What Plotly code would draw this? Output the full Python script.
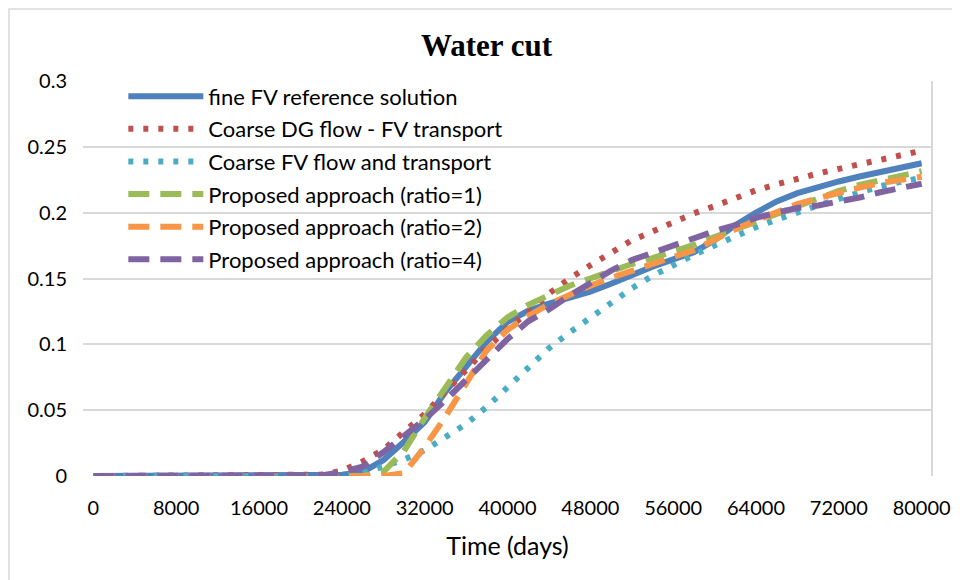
import plotly.graph_objects as go

time_days = [0, 2000, 4000, 6000, 8000, 10000, 12000, 14000, 16000, 18000,
             20000, 22000, 24000, 26000, 28000, 30000, 32000, 34000, 36000, 38000,
             40000, 42000, 44000, 46000, 48000, 50000, 52000, 54000, 56000, 58000,
             60000, 62000, 64000, 66000, 68000, 70000, 72000, 74000, 76000, 78000, 80000]

fine_fv = [0, 0, 0, 0, 0, 0, 0, 0, 0, 0,
           0, 0, 0.001, 0.003, 0.012, 0.026, 0.041, 0.064, 0.083, 0.102,
           0.117, 0.1255, 0.131, 0.1355, 0.140, 0.146, 0.153, 0.159, 0.1645, 0.170,
           0.179, 0.1905, 0.2, 0.2085, 0.2148, 0.2197, 0.2237, 0.2275, 0.231, 0.2343, 0.2375]

coarse_dg = [0, 0, 0, 0, 0, 0, 0, 0, 0, 0,
             0, 0.001, 0.004, 0.011, 0.020, 0.033, 0.047, 0.064, 0.081, 0.097,
             0.112, 0.124, 0.1385, 0.150, 0.160, 0.170, 0.179, 0.1857, 0.1925, 0.1995,
             0.205, 0.2115, 0.217, 0.2215, 0.226, 0.2298, 0.2333, 0.2367, 0.240, 0.2435, 0.247]

coarse_fv = [0, 0, 0, 0, 0, 0, 0, 0, 0, 0,
             0, 0, 0, 0.002, 0.007, 0.0125, 0.0195, 0.029, 0.0395, 0.0525,
             0.067, 0.083, 0.097, 0.109, 0.1205, 0.132, 0.1425, 0.152, 0.1605, 0.168,
             0.175, 0.1825, 0.189, 0.1947, 0.2005, 0.2055, 0.2105, 0.2155, 0.220, 0.2235, 0.2265]

ratio1 = [0, 0, 0, 0, 0, 0, 0, 0, 0, 0,
          0, 0, 0, 0, 0.003, 0.019, 0.044, 0.068, 0.090, 0.107,
          0.1205, 0.130, 0.137, 0.1445, 0.150, 0.156, 0.161, 0.1655, 0.170, 0.1755,
          0.1815, 0.187, 0.193, 0.199, 0.205, 0.211, 0.2165, 0.221, 0.2245, 0.228, 0.2315]

ratio2 = [0, 0, 0, 0, 0, 0, 0, 0, 0, 0,
          0, 0, 0, 0, 0, 0.002, 0.022, 0.045, 0.070, 0.0955,
          0.111, 0.1215, 0.1305, 0.138, 0.1445, 0.1505, 0.156, 0.161, 0.1665, 0.1715,
          0.1795, 0.1875, 0.194, 0.200, 0.2065, 0.211, 0.2155, 0.219, 0.2225, 0.2245, 0.2273]

ratio4 = [0, 0, 0, 0, 0, 0, 0, 0, 0, 0,
          0, 0.0005, 0.003, 0.007, 0.018, 0.031, 0.043, 0.0575, 0.073, 0.0885,
          0.104, 0.1175, 0.1265, 0.137, 0.1465, 0.156, 0.164, 0.1695, 0.1755, 0.181,
          0.186, 0.1905, 0.196, 0.200, 0.2035, 0.2055, 0.208, 0.2115, 0.2155, 0.219, 0.222]

x_tick_vals = [0, 8000, 16000, 24000, 32000, 40000, 48000, 56000, 64000, 72000, 80000]
x_tick_text = ["0", "8000", "16000", "24000", "32000", "40000", "48000", "56000", "64000", "72000", "80000"]
y_tick_vals = [0, 0.05, 0.1, 0.15, 0.2, 0.25, 0.3]
y_tick_text = ["0", "0.05", "0.1", "0.15", "0.2", "0.25", "0.3"]

series = [
    ("fine FV reference solution", fine_fv, "#4f81bd", "solid", 6),
    ("Coarse DG flow - FV transport", coarse_dg, "#c0504d", "5px,10px", 6),
    ("Coarse FV flow and transport", coarse_fv, "#4bacc6", "5px,10px", 6),
    ("Proposed approach (ratio=1)", ratio1, "#9bbb59", "21px,11px", 6),
    ("Proposed approach (ratio=2)", ratio2, "#f79646", "21px,11px", 6),
    ("Proposed approach (ratio=4)", ratio4, "#8064a2", "21px,11px", 6),
]

fig = go.Figure()
for i, (name, vals, color, dash, w) in enumerate(series):
    fig.add_trace(go.Scatter(
        x=time_days, y=vals, name=name, mode="lines",
        line=dict(color=color, width=w, dash=dash),
        legendgroup="g%d" % i,
    ))

font_main = "Lato, 'Open Sans', sans-serif"

# page body has an 8px default margin, so the figure is 8px smaller and shifted
L, T, PW, PH = 75, 73, 849, 395
FW, FH = 952, 572

fig.update_layout(
    width=FW, height=FH,
    paper_bgcolor="white", plot_bgcolor="white",
    margin=dict(l=L, r=FW - L - PW, t=T, b=FH - T - PH, autoexpand=False),
    title=dict(text="<b>Water cut</b>", x=478.5 / FW, xanchor="center", y=1 - 37 / FH, yanchor="middle",
               font=dict(family="'Liberation Serif', 'Times New Roman', serif", size=31, color="black")),
    font=dict(family=font_main, color="black"),
    showlegend=True,
    legend=dict(x=0.0475, y=1.014, xanchor="left", yanchor="top",
                bgcolor="rgba(0,0,0,0)", borderwidth=0,
                font=dict(family=font_main, size=22, color="black"),
                itemwidth=75, tracegroupgap=1),
    xaxis=dict(range=[-1000, 81000], tickvals=x_tick_vals, ticktext=x_tick_text,
               showgrid=False, zeroline=False, showline=False, ticks="", automargin=False,
               tickfont=dict(size=20, family=font_main, color="black"),
               ticklabelstandoff=18,
               title=dict(text="Time (days)", font=dict(size=25, family=font_main, color="black"), standoff=19)),
    yaxis=dict(range=[0, 0.3], tickvals=y_tick_vals, ticktext=y_tick_text, automargin=False,
               showgrid=True, gridcolor="#d9d9d9", gridwidth=1.5, zeroline=False, showline=False,
               ticks="", tickfont=dict(size=20, family=font_main, color="black"),
               ticklabelstandoff=15),
    shapes=[
        dict(type="line", xref="paper", yref="paper", x0=1, x1=1, y0=0, y1=1,
             line=dict(color="#d9d9d9", width=2), layer="below"),
        dict(type="rect", xref="paper", yref="paper",
             x0=(1 - L) / PW, x1=(FW + 20 - L) / PW,
             y0=-(FH + 20 - T - PH) / PH, y1=1 + (T - 1) / PH,
             line=dict(color="#d9d9d9", width=1.5), fillcolor="rgba(0,0,0,0)", layer="below"),
    ],
)

fig.write_html("out.html")
